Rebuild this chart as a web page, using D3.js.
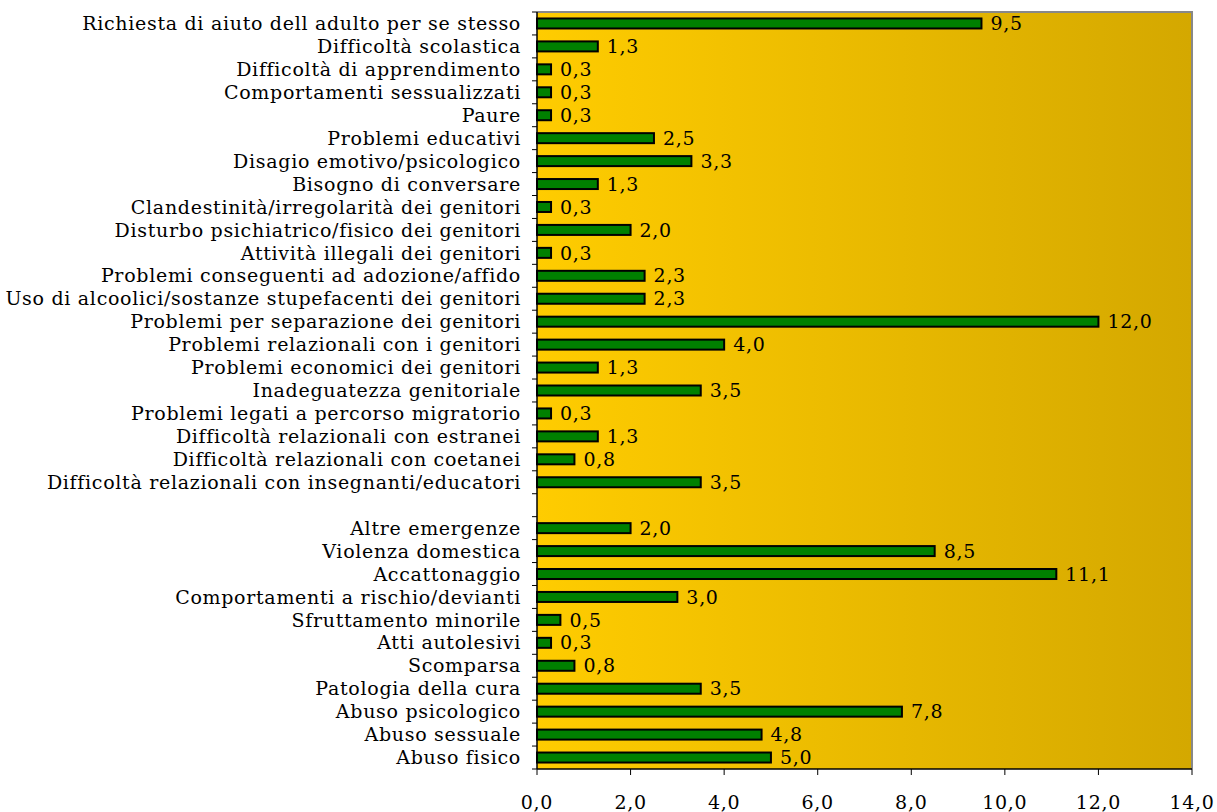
<!DOCTYPE html>
<html><head><meta charset="utf-8">
<script src="https://cdn.jsdelivr.net/npm/d3@7"></script>
<style>body{margin:0;background:#fff}</style>
</head><body>
<svg id="c" width="1217" height="812"></svg>
<script>
const categories = [
 "Richiesta di aiuto dell adulto per se stesso","Difficoltà scolastica","Difficoltà di apprendimento",
 "Comportamenti sessualizzati","Paure","Problemi educativi","Disagio emotivo/psicologico",
 "Bisogno di conversare","Clandestinità/irregolarità dei genitori","Disturbo psichiatrico/fisico dei genitori",
 "Attività illegali dei genitori","Problemi conseguenti ad adozione/affido",
 "Uso di alcoolici/sostanze stupefacenti dei genitori","Problemi per separazione dei genitori",
 "Problemi relazionali con i genitori","Problemi economici dei genitori","Inadeguatezza genitoriale",
 "Problemi legati a percorso migratorio","Difficoltà relazionali con estranei",
 "Difficoltà relazionali con coetanei","Difficoltà relazionali con insegnanti/educatori","",
 "Altre emergenze","Violenza domestica","Accattonaggio","Comportamenti a rischio/devianti",
 "Sfruttamento minorile","Atti autolesivi","Scomparsa","Patologia della cura","Abuso psicologico",
 "Abuso sessuale","Abuso fisico"];
const values = [9.5,1.3,0.3,0.3,0.3,2.5,3.3,1.3,0.3,2.0,0.3,2.3,2.3,12.0,4.0,1.3,3.5,0.3,1.3,0.8,3.5,null,
 2.0,8.5,11.1,3.0,0.5,0.3,0.8,3.5,7.8,4.8,5.0];
const xTicks = [0,2,4,6,8,10,12,14];

const svg = d3.select("#c");
const L=537, R=1192, T=12, B=769;
const font = "DejaVu Serif";
const fs = 19, ls = 0.7;
const x = d3.scaleLinear().domain([0,14]).range([L,R]);
const y = d3.scaleBand().domain(d3.range(categories.length)).range([T,B]);

const defs = svg.append("defs");
const g = defs.append("linearGradient").attr("id","bg").attr("x1","0").attr("x2","1").attr("y1","0").attr("y2","0");
g.append("stop").attr("offset","0%").attr("stop-color","#FFCC00");
g.append("stop").attr("offset","100%").attr("stop-color","#D4A800");

svg.append("rect").attr("x",L).attr("y",T).attr("width",R-L).attr("height",B-T).attr("fill","url(#bg)");
svg.append("path").attr("d",`M${L},${T}H${R}V${B}`).attr("fill","none").attr("stroke","#888").attr("stroke-width",2);

const fmt = v => v.toFixed(1).replace(".",",");
const data = values.map((v,i)=>({i,v})).filter(d=>d.v!==null);
const bh = 10;
svg.selectAll("rect.bar").data(data).enter().append("rect").attr("class","bar")
 .attr("x",x(0)).attr("y",d=>y(d.i)+y.bandwidth()/2-bh/2)
 .attr("width",d=>x(d.v)-x(0)).attr("height",bh)
 .attr("fill","#008000").attr("stroke","#000").attr("stroke-width",2);
svg.selectAll("text.val").data(data).enter().append("text").attr("class","val")
 .attr("x",d=>x(d.v)+9).attr("y",d=>y(d.i)+y.bandwidth()/2).attr("dy","0.35em")
 .attr("font-family",font).attr("font-size",fs).attr("letter-spacing",ls).text(d=>fmt(d.v));

// left axis
const ya = svg.append("g");
ya.append("line").attr("x1",L).attr("x2",L).attr("y1",T).attr("y2",B).attr("stroke","#000").attr("stroke-width",1.5);
ya.selectAll("line.t").data(d3.range(categories.length+1)).enter().append("line")
 .attr("x1",L-5).attr("x2",L).attr("y1",i=>T+i*y.step()).attr("y2",i=>T+i*y.step()).attr("stroke","#000");
ya.selectAll("text").data(categories).enter().append("text")
 .attr("x",L-16).attr("y",(d,i)=>y(i)+y.bandwidth()/2).attr("dy","0.35em").attr("text-anchor","end")
 .attr("font-family",font).attr("font-size",fs).attr("letter-spacing",ls).text(d=>d);

// bottom axis
const xa = svg.append("g");
xa.append("line").attr("x1",L).attr("x2",R).attr("y1",B).attr("y2",B).attr("stroke","#000").attr("stroke-width",1.5);
xa.selectAll("line.t").data(xTicks).enter().append("line")
 .attr("x1",d=>x(d)).attr("x2",d=>x(d)).attr("y1",B).attr("y2",B+6).attr("stroke","#000");
xa.selectAll("text").data(xTicks).enter().append("text")
 .attr("x",d=>x(d)).attr("y",B+40).attr("text-anchor","middle")
 .attr("font-family",font).attr("font-size",fs).attr("letter-spacing",ls).text(d=>fmt(d));
</script>
</body></html>
